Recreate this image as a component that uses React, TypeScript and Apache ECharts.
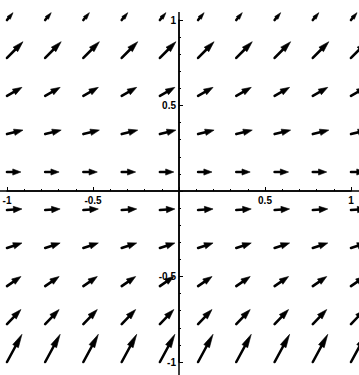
import React, { useEffect, useRef } from "react";
import * as echarts from "echarts";

// grid points (tails of the arrows)
const xGrid = [-1, -0.778, -0.556, -0.333, -0.111, 0.111, 0.333, 0.556, 0.778, 1];
const yGrid = [1, 0.778, 0.556, 0.333, 0.111, -0.111, -0.333, -0.556, -0.778, -1];
// vector components per row (same for every column of a row)
const rowVx = [0.035, 0.093, 0.087, 0.093, 0.081, 0.087, 0.087, 0.081, 0.081, 0.087];
const rowVy = [0.043, 0.095, 0.05, 0.023, 0.0, 0.006, 0.029, 0.056, 0.085, 0.162];
const tickLabels = ["-1", "-0.5", "0.5", "1"];

const W = 359;
const H = 375;
const G = { left: 7, right: 8, top: 20, bottom: 13 };

export default function App() {
  const ref = useRef<HTMLDivElement>(null);
  useEffect(() => {
    if (!ref.current) return;
    const chart = echarts.init(ref.current, null, { renderer: "svg" });
    const data: number[][] = [];
    yGrid.forEach((y, j) => {
      xGrid.forEach((x) => {
        data.push([x, y, rowVx[j], rowVy[j]]);
      });
    });
    const labelFmt = (v: number) => {
      const s = String(v);
      return tickLabels.indexOf(s) >= 0 ? s : "";
    };
    const gw = W - G.left - G.right;
    const gh = H - G.top - G.bottom;
    const axisCommon = {
      type: "value",
      min: -1,
      max: 1,
      interval: 0.5,
      splitLine: { show: false },
      axisLine: { show: true, onZero: false, lineStyle: { color: "#000", width: 1.5 } },
      axisTick: { show: true, inside: true, length: 4, lineStyle: { color: "#000", width: 1 } },
      minorTick: { show: true, splitNumber: 5, length: 2, lineStyle: { color: "#000", width: 1 } },
      axisLabel: {
        formatter: labelFmt,
        color: "#000",
        fontFamily: "Liberation Sans",
        fontWeight: "bold",
        fontSize: 10,
        showMinLabel: true,
        showMaxLabel: true,
      },
    };
    chart.setOption({
      animation: false,
      backgroundColor: "#fff",
      grid: { ...G, outerBoundsMode: "none", containLabel: false },
      xAxis: {
        ...axisCommon,
        position: "bottom",
        offset: -gh / 2,
        axisLabel: { ...axisCommon.axisLabel, margin: 4 },
      },
      yAxis: {
        ...axisCommon,
        position: "left",
        offset: -gw / 2,
        axisLabel: { ...axisCommon.axisLabel, margin: 3 },
      },
      series: [
        {
          type: "custom",
          clip: false,
          encode: { x: 0, y: 1 },
          data,
          renderItem: (params: any, api: any) => {
            const x = api.value(0);
            const y = api.value(1);
            const vx = api.value(2);
            const vy = api.value(3);
            const p0 = api.coord([x, y]);
            const p1 = api.coord([x + vx, y + vy]);
            const dx = p1[0] - p0[0];
            const dy = p1[1] - p0[1];
            const len = Math.hypot(dx, dy) || 1;
            const ux = dx / len;
            const uy = dy / len;
            const hl = Math.min(len * 0.75, 0.3 * len + 4);
            const hw = Math.min(3.2, len * 0.22);
            const bx = p1[0] - ux * hl;
            const by = p1[1] - uy * hl;
            const nx = -uy;
            const ny = ux;
            return {
              type: "group",
              children: [
                {
                  type: "line",
                  shape: { x1: p0[0], y1: p0[1], x2: bx + ux, y2: by + uy },
                  style: { stroke: "#000", lineWidth: 2.6, lineCap: "round" },
                },
                {
                  type: "polygon",
                  shape: {
                    points: [
                      [p1[0], p1[1]],
                      [bx + nx * hw, by + ny * hw],
                      [bx - nx * hw, by - ny * hw],
                    ],
                  },
                  style: { fill: "#000", stroke: "#000", lineWidth: 0.6, lineJoin: "round" },
                },
              ],
            };
          },
        },
      ],
    });
    const z = chart.convertToPixel({ gridIndex: 0 }, [0, 0]) as number[];
    chart.setOption({
      graphic: [
        { type: "line", silent: true, shape: { x1: 0, y1: z[1], x2: W, y2: z[1] }, style: { stroke: "#000", lineWidth: 1.5 } },
        { type: "line", silent: true, shape: { x1: z[0], y1: 12, x2: z[0], y2: H }, style: { stroke: "#000", lineWidth: 1.5 } },
      ],
    });
    return () => chart.dispose();
  }, []);
  return (
    <div
      ref={ref}
      style={{ position: "absolute", left: 0, top: 0, width: W, height: H }}
    />
  );
}
